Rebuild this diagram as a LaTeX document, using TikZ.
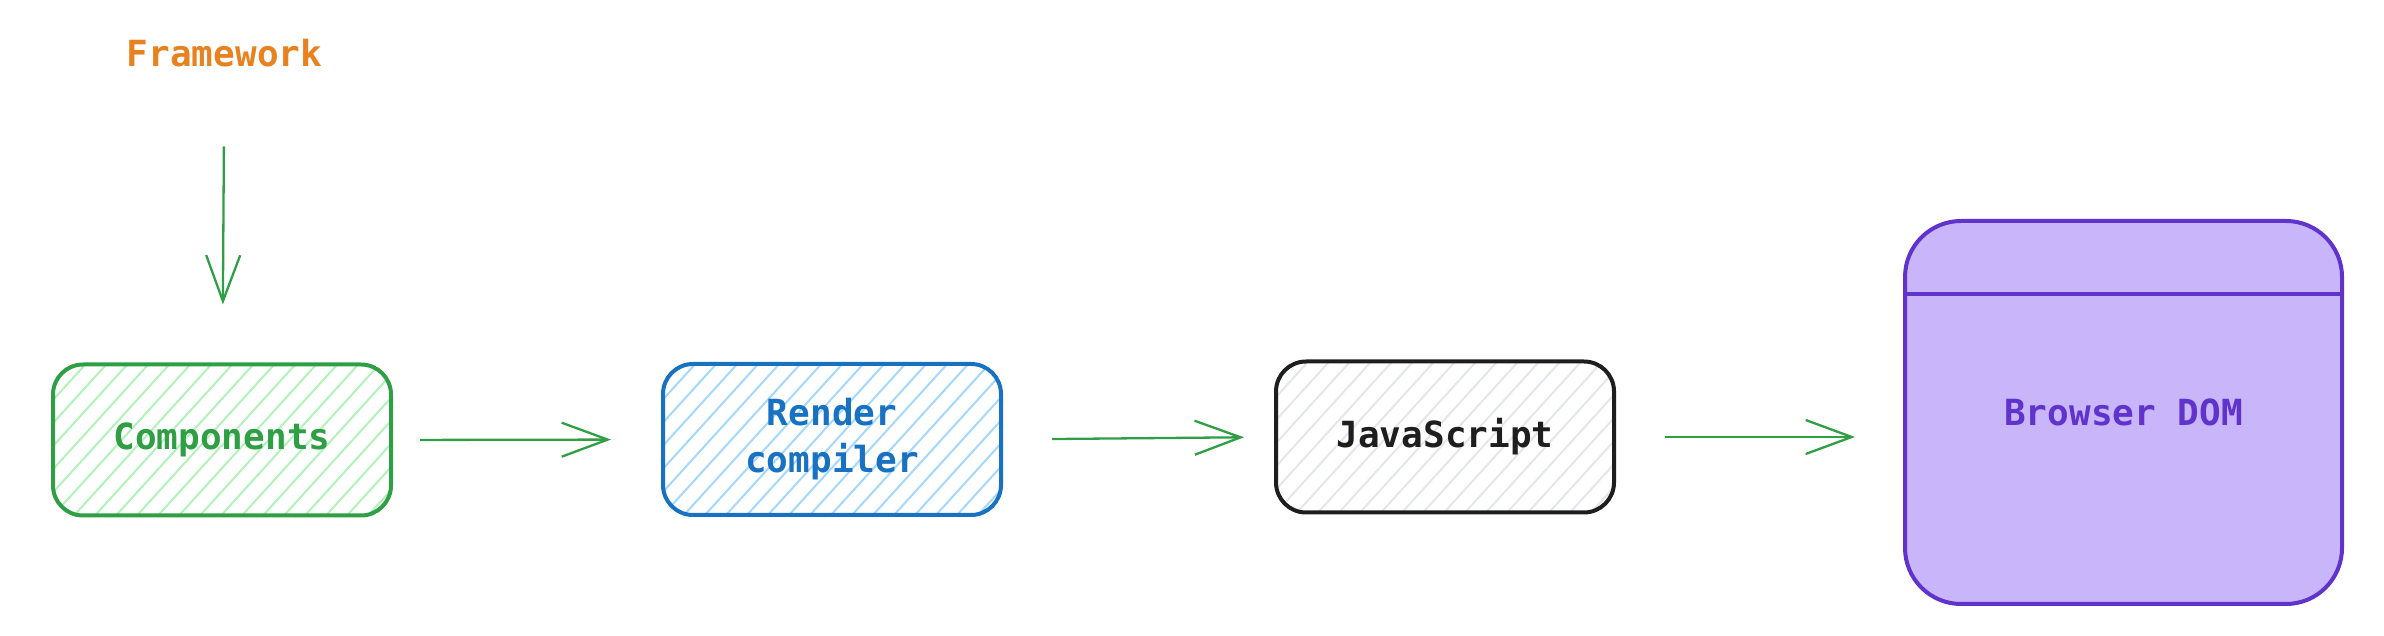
\documentclass[tikz,border=0pt]{standalone}
\usepackage{fontspec}
\setmonofont{DejaVu Sans Mono}
\usetikzlibrary{arrows.meta}
\definecolor{cgreen}{HTML}{2F9E44}
\definecolor{hgreen}{HTML}{B2F2BB}
\definecolor{cblue}{HTML}{1971C2}
\definecolor{hblue}{HTML}{A5D8FF}
\definecolor{cblack}{HTML}{1E1E1E}
\definecolor{hgray}{HTML}{E3E6EA}
\definecolor{cviolet}{HTML}{5F33CC}
\definecolor{fviolet}{HTML}{C9B5FA}
\definecolor{corange}{HTML}{E8821F}
\tikzset{
  txt/.style={font=\ttfamily\bfseries\fontsize{36}{47}\selectfont, inner sep=0pt, outer sep=0pt},
  box/.style={txt, draw, line width=4pt, rounded corners=30pt, align=center,
    minimum width=338pt, minimum height=151pt},
  hatchbox/.style={box, draw=#1, text=#1},
  hatch/.style={path picture={
      \foreach \i in {-12,...,20}
        \draw[#1, line width=2pt]
          ([xshift=\i*21pt]path picture bounding box.south west) -- ++(400pt,440pt);}},
  arr/.style={draw=cgreen, line width=2.3pt,
    -{Straight Barb[length=46pt, width=34pt, line width=2.3pt]}},
}
\begin{document}
\begin{tikzpicture}[x=1pt, y=1pt]
\useasboundingbox (0,0) rectangle (2384,636);
\node[txt, text=corange, anchor=base] (fw) at (224.5,569) {Framework};
\node[hatchbox=cgreen, hatch=hgreen] (comp) at (222,196) {Components};
\node[hatchbox=cblue, hatch=hblue] (rc) at (832,196.5) {Render\\compiler};
\node[hatchbox=cblack, hatch=hgray] (js) at (1445,199) {JavaScript};
\node[box, draw=cviolet, text=cviolet, fill=fviolet, rounded corners=56pt,
  minimum width=437pt, minimum height=383pt] (dom) at (2123.5,223.5) {Browser DOM};
\draw[cviolet, line width=4pt] ([yshift=-73pt]dom.north west) -- ([yshift=-73pt]dom.north east);
\draw[arr, shorten <=79pt, shorten >=60pt] (fw) -- (comp);
\draw[arr, shorten <=29pt, shorten >=52pt] (comp.east) -- (rc.west);
\draw[arr, shorten <=51pt, shorten >=32pt] (rc.east) -- (js.west);
\draw[arr, shorten <=51pt, shorten >=50pt] (js.east) -- (js.east -| dom.west);
\end{tikzpicture}
\end{document}
